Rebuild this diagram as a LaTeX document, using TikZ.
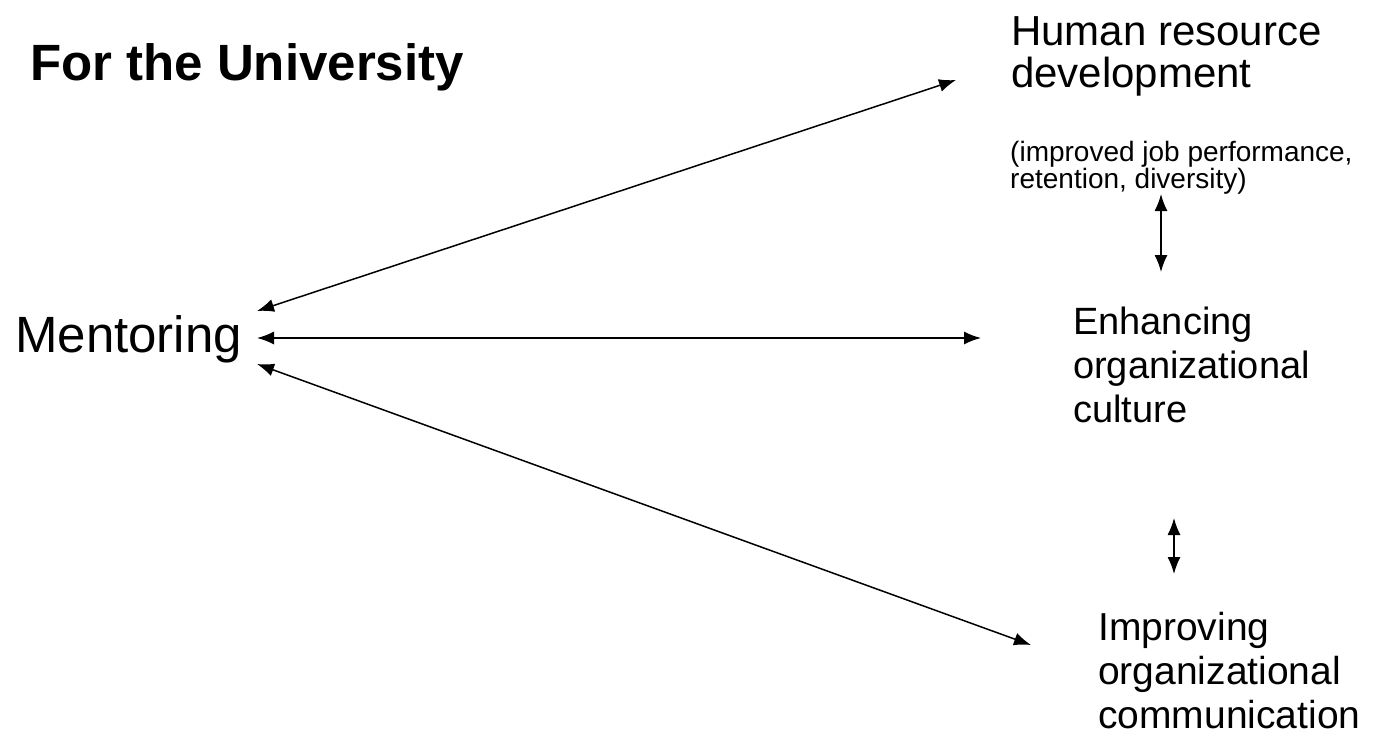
\documentclass[tikz,border=0pt]{standalone}
\usepackage{fontspec}
\setmainfont{Liberation Sans}
\usetikzlibrary{arrows.meta}
\begin{document}
\begin{tikzpicture}[x=1pt,y=-1pt,
  conn/.style={{Latex[length=17pt,width=13pt]}-{Latex[length=17pt,width=13pt]},line width=1.5pt},
  lbl/.style={inner sep=0pt,anchor=north west,align=left}]
\useasboundingbox (0,0) rectangle (1380,738);
\node[lbl,font=\fontsize{51}{56}\selectfont\bfseries] (title) at (30,43) {For the University};
\node[lbl,font=\fontsize{42}{42}\selectfont] (hrd) at (1011,16) {Human resource\\development};
\node[lbl,font=\fontsize{28}{17}\selectfont] (hrdsub) at (1010,141) {(improved job performance,\\retention, diversity)};
\node[lbl,font=\fontsize{51}{56}\selectfont] (ment) at (15,315) {Mentoring};
\node[lbl,font=\fontsize{38}{44}\selectfont] (culture) at (1073,307) {Enhancing\\organizational\\culture};
\node[lbl,font=\fontsize{39}{44}\selectfont] (comm) at (1098,612) {Improving\\organizational\\communication};
\coordinate (m1) at (257,311);
\coordinate (m2) at (257,338);
\coordinate (m3) at (257,364);
\coordinate (h) at (956,80);
\coordinate (c) at (981,338);
\coordinate (i) at (1031,645);
\coordinate (v1a) at (1161,194);
\coordinate (v1b) at (1161,272);
\coordinate (v2a) at (1174,518);
\coordinate (v2b) at (1174,574);
\draw[conn] (m1) -- (h);
\draw[conn] (m2) -- (c);
\draw[conn] (m3) -- (i);
\draw[conn] (v1a) -- (v1b);
\draw[conn] (v2a) -- (v2b);
\end{tikzpicture}
\end{document}
